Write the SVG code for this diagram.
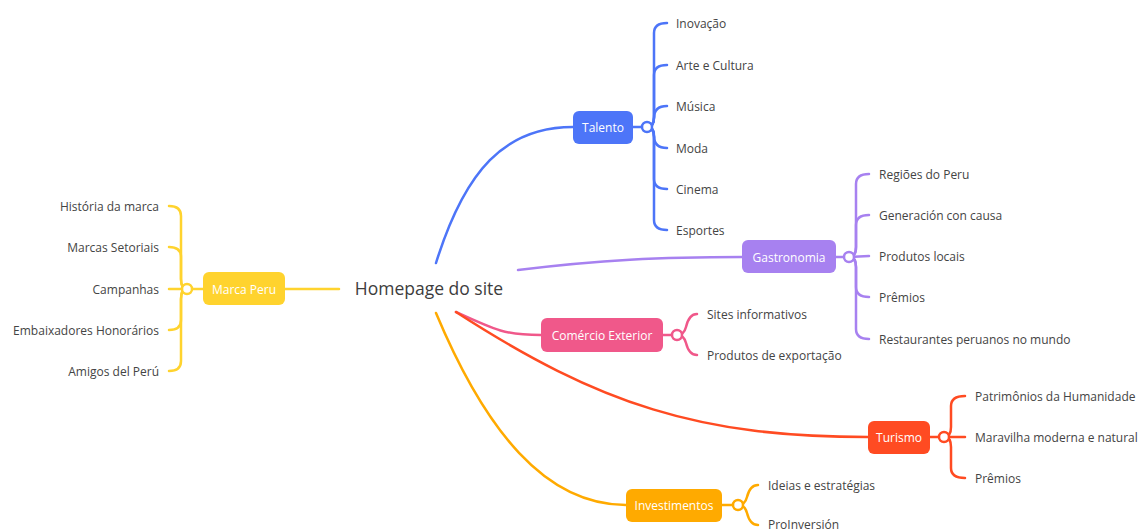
<svg xmlns="http://www.w3.org/2000/svg" width="1138" height="529" viewBox="0 0 1138 529">
<style>
.t{font-family:"Open Sans","Noto Sans",sans-serif;font-size:12px;fill:#444;dominant-baseline:central}
.n{font-family:"Open Sans","Noto Sans",sans-serif;font-size:12px;fill:#fff;dominant-baseline:central;text-anchor:middle}
.c{fill:none;stroke-width:2.5;stroke-linecap:round}
.k{fill:#fff;stroke-width:2.5}
</style>
<rect width="1138" height="529" fill="#fff"/>
<g id="connectors">
<path class="c" stroke="#4D75F8" d="M436,263 C465,170 505,127 573,127"/>
<path class="c" stroke="#A781F0" d="M518,270 C600,260 660,257 742,257"/>
<path class="c" stroke="#FFD32E" d="M285,289 L339,289"/>
<path class="c" stroke="#F0588A" d="M456,312 C495,330 505,335 541,335"/>
<path class="c" stroke="#FF4B22" d="M456,312 C600,405 700,437 868,437"/>
<path class="c" stroke="#FFAA00" d="M436,313 C485,430 545,505 626,505"/>
<g stroke="#4D75F8">
<path class="c" d="M647,127 Q654,127 654,117 L654,33 Q654,23 667,23"/>
<path class="c" d="M647,127 Q654,127 654,117 L654,75 Q654,65 667,65"/>
<path class="c" d="M647,127 Q654,127 654,118 Q654,106 667,106"/>
<path class="c" d="M647,127 Q654,127 654,136 Q654,148 667,148"/>
<path class="c" d="M647,127 Q654,127 654,137 L654,179 Q654,189 667,189"/>
<path class="c" d="M647,127 Q654,127 654,137 L654,220 Q654,230 667,230"/>
</g>
<g stroke="#A781F0">
<path class="c" d="M849,257 Q856,257 856,247 L856,184 Q856,174 869,174"/>
<path class="c" d="M849,257 Q856,257 856,247 L856,225 Q856,215 869,215"/>
<path class="c" d="M849,257 L869,256"/>
<path class="c" d="M849,257 Q856,257 856,267 L856,287 Q856,297 869,297"/>
<path class="c" d="M849,257 Q856,257 856,267 L856,329 Q856,339 869,339"/>
</g>
<g stroke="#FFD32E">
<path class="c" d="M187,289 Q181,289 181,279 L181,216 Q181,206 169,206"/>
<path class="c" d="M187,289 Q181,289 181,279 L181,257 Q181,247 169,247"/>
<path class="c" d="M187,289 L169,289"/>
<path class="c" d="M187,289 Q181,289 181,299 L181,320 Q181,330 169,330"/>
<path class="c" d="M187,289 Q181,289 181,299 L181,361 Q181,371 169,371"/>
</g>
<g stroke="#F0588A">
<path class="c" d="M677,335 Q684,335 686,327 Q689,314 697,314"/>
<path class="c" d="M677,335 Q684,335 686,343 Q689,355 697,355"/>
</g>
<g stroke="#FF4B22">
<path class="c" d="M944,437 Q951,437 951,427 L951,406 Q951,396 965,396"/>
<path class="c" d="M944,437 L965,437"/>
<path class="c" d="M944,437 Q951,437 951,447 L951,468 Q951,478 965,478"/>
</g>
<g stroke="#FFAA00">
<path class="c" d="M738,505 Q745,505 747,497 Q750,485 758,485"/>
<path class="c" d="M738,505 Q745,505 747,513 Q750,525 758,525"/>
</g>
</g>
<g id="root">
<text x="429" y="288" style="font-family:'Open Sans','Noto Sans',sans-serif;font-size:17.5px;font-weight:500;fill:#3d3d3d;dominant-baseline:central;text-anchor:middle">Homepage do site</text>
</g>
<g id="talento">
<rect x="573" y="111" width="60" height="33" rx="6" fill="#4D75F8"/>
<text class="n" x="603" y="127.5">Talento</text>
<path class="c" stroke="#4D75F8" d="M633,127 L642,127"/>
<circle class="k" cx="647" cy="127" r="5" stroke="#4D75F8"/>
<text class="t" x="676" y="23">Inovação</text>
<text class="t" x="676" y="65">Arte e Cultura</text>
<text class="t" x="676" y="106">Música</text>
<text class="t" x="676" y="148">Moda</text>
<text class="t" x="676" y="189">Cinema</text>
<text class="t" x="676" y="230">Esportes</text>
</g>
<g id="gastronomia">
<rect x="742" y="240" width="94" height="33" rx="6" fill="#A781F0"/>
<text class="n" x="789" y="257">Gastronomia</text>
<path class="c" stroke="#A781F0" d="M836,257 L844,257"/>
<circle class="k" cx="849" cy="257" r="5" stroke="#A781F0"/>
<text class="t" x="879" y="174">Regiões do Peru</text>
<text class="t" x="879" y="215">Generación con causa</text>
<text class="t" x="879" y="256">Produtos locais</text>
<text class="t" x="879" y="297">Prêmios</text>
<text class="t" x="879" y="339">Restaurantes peruanos no mundo</text>
</g>
<g id="marca-peru">
<rect x="203" y="272" width="82" height="33" rx="6" fill="#FFD32E"/>
<text class="n" x="244" y="289">Marca Peru</text>
<path class="c" stroke="#FFD32E" d="M203,289 L192,289"/>
<circle class="k" cx="187" cy="289" r="5" stroke="#FFD32E"/>
<g style="text-anchor:end">
<text class="t" x="159" y="206">História da marca</text>
<text class="t" x="159" y="247">Marcas Setoriais</text>
<text class="t" x="159" y="289">Campanhas</text>
<text class="t" x="159" y="330">Embaixadores Honorários</text>
<text class="t" x="159" y="371">Amigos del Perú</text>
</g>
</g>
<g id="comercio-exterior">
<rect x="541" y="318" width="122" height="34" rx="6" fill="#F0588A"/>
<text class="n" x="602" y="335">Comércio Exterior</text>
<path class="c" stroke="#F0588A" d="M663,335 L672,335"/>
<circle class="k" cx="677" cy="335" r="5" stroke="#F0588A"/>
<text class="t" x="707" y="314">Sites informativos</text>
<text class="t" x="707" y="355">Produtos de exportação</text>
</g>
<g id="turismo">
<rect x="868" y="421" width="62" height="33" rx="6" fill="#FF4B22"/>
<text class="n" x="899" y="437">Turismo</text>
<path class="c" stroke="#FF4B22" d="M930,437 L939,437"/>
<circle class="k" cx="944" cy="437" r="5" stroke="#FF4B22"/>
<text class="t" x="975" y="396">Patrimônios da Humanidade</text>
<text class="t" x="975" y="437">Maravilha moderna e natural</text>
<text class="t" x="975" y="478">Prêmios</text>
</g>
<g id="investimentos">
<rect x="626" y="489" width="96" height="33" rx="6" fill="#FFAA00"/>
<text class="n" x="674" y="505">Investimentos</text>
<path class="c" stroke="#FFAA00" d="M722,505 L733,505"/>
<circle class="k" cx="738" cy="505" r="5" stroke="#FFAA00"/>
<text class="t" x="768" y="485">Ideias e estratégias</text>
<text class="t" x="768" y="524">ProInversión</text>
</g>
</svg>
